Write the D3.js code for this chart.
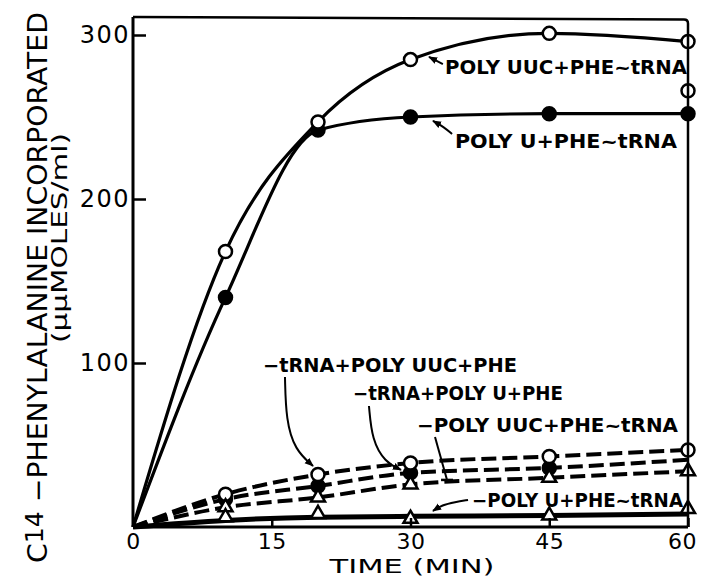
<!DOCTYPE html>
<html>
<head>
<meta charset="utf-8">
<script src="https://cdn.jsdelivr.net/npm/d3@7"></script>
<style>
  html, body { margin: 0; padding: 0; background: #fff; }
  svg { display: block; }
  text { font-family: "DejaVu Sans", sans-serif; fill: #000; }
</style>
</head>
<body>
<svg id="chart" width="702" height="579"></svg>
<script>
// ---------------- data ----------------
const times = [0, 10, 20, 30, 45, 60];
// solid curves (complete system)
const polyUUC_tRNA = [0, 168, 247, 285, 301, 296];   // open circles
const polyU_tRNA   = [0, 140, 242, 250, 252, 252];   // filled circles
const extraTime = [60];
const extraPolyUUC = [266];                          // extra open circle at 60 min
// dashed curves (controls)
const noTRNA_polyUUC = [0, 20, 32, 39, 43, 47];      // open circles
const noTRNA_polyU   = [0, 17, 25, 33, 36, 41];      // filled circles (line)
const noTRNA_polyU_pts = [null, 17, 25, 33, 36, null];
const noPoly_UUC     = [0, 12, 18, 26, 30, 34];      // triangles
// thick solid bottom line
const noPoly_U_line  = [0, 4, 6, 6.5, 7, 8];
const noPoly_U_pts   = [null, 6, 8, 5, 7, 11];       // triangles
const xTicks = [0, 15, 30, 45, 60];
const yTicks = [100, 200, 300];
const xLabel = "TIME (MIN)";
const yLabel1a = "C", yLabel1b = "14", yLabel1c = " −PHENYLALANINE INCORPORATED";
const yLabel2 = "(μμMOLES/ml)";

// ---------------- layout ----------------
const svg = d3.select("#chart");
const x = d3.scaleLinear().domain([0, 60]).range([133, 688]);
const y = d3.scaleLinear().domain([0, 300]).range([527, 35]);
const frameTop = 311;

const defs = svg.append("defs");
defs.append("marker").attr("id", "ah")
  .attr("viewBox", "0 0 10 10").attr("refX", 9).attr("refY", 5)
  .attr("markerWidth", 9).attr("markerHeight", 9)
  .attr("markerUnits", "userSpaceOnUse").attr("orient", "auto")
  .append("path").attr("d", "M0,1 L10,5 L0,9 Z").attr("fill", "#000");

const zip = (vals) => times.map((t, i) => ({t, v: vals[i]}));
const lineGen = d3.line().x(d => x(d.t)).y(d => y(d.v)).curve(d3.curveMonotoneX);

// curves
svg.append("path").datum(zip(polyUUC_tRNA)).attr("d", lineGen)
  .attr("fill", "none").attr("stroke", "#000").attr("stroke-width", 3.2);
svg.append("path").datum(zip(polyU_tRNA)).attr("d", lineGen)
  .attr("fill", "none").attr("stroke", "#000").attr("stroke-width", 3.2);

[noTRNA_polyUUC, noTRNA_polyU, noPoly_UUC].forEach(vals => {
  svg.append("path").datum(zip(vals)).attr("d", lineGen)
    .attr("fill", "none").attr("stroke", "#000").attr("stroke-width", 4)
    .attr("stroke-dasharray", "15,6");
});
svg.append("path").datum(zip(noPoly_U_line)).attr("d", lineGen)
  .attr("fill", "none").attr("stroke", "#000").attr("stroke-width", 5);

// markers
function circles(vals, filled) {
  svg.append("g").selectAll("circle")
    .data(times.map((t, i) => ({t, v: vals[i]})).filter(d => d.v !== null && d.t > 0))
    .join("circle")
    .attr("cx", d => x(d.t)).attr("cy", d => y(d.v)).attr("r", 6.5)
    .attr("fill", filled ? "#000" : "#fff").attr("stroke", "#000").attr("stroke-width", 2.5);
}
function triangles(vals) {
  svg.append("g").selectAll("path")
    .data(times.map((t, i) => ({t, v: vals[i]})).filter(d => d.v !== null && d.t > 0))
    .join("path")
    .attr("transform", d => `translate(${x(d.t)},${y(d.v)})`)
    .attr("d", d3.symbol(d3.symbolTriangle, 85))
    .attr("fill", "#fff").attr("stroke", "#000").attr("stroke-width", 2.5);
}
circles(noTRNA_polyU_pts, true);
circles(noTRNA_polyUUC, false);
triangles(noPoly_UUC);
triangles(noPoly_U_pts);
circles(polyU_tRNA, true);
circles(polyUUC_tRNA, false);
svg.append("g").selectAll("circle")
  .data(extraTime.map((t, i) => ({t, v: extraPolyUUC[i]})))
  .join("circle")
  .attr("cx", d => x(d.t)).attr("cy", d => y(d.v)).attr("r", 6.5)
  .attr("fill", "#fff").attr("stroke", "#000").attr("stroke-width", 2.5);

// frame (top and right)
svg.append("path")
  .attr("d", `M${x(0)},${y(frameTop)} L${x(60) - 4},${y(frameTop - 1.5)} Q${x(60)},${y(frameTop - 1.5)} ${x(60)},${y(frameTop - 4)} L${x(60)},${y(0)}`)
  .attr("fill", "none").attr("stroke", "#000").attr("stroke-width", 2.5);

// axes
const yAxis = d3.axisLeft(y).tickValues(yTicks).tickSize(-13).tickPadding(16).tickFormat(d3.format("d"));
const gy = svg.append("g").attr("transform", `translate(${x(0)},0)`).call(yAxis);
gy.select(".domain").attr("d", `M0,${y(0)}V${y(frameTop)}`).attr("stroke-width", 3);
gy.selectAll(".tick line").attr("stroke-width", 2.5);
gy.selectAll(".tick text").attr("font-size", 24).attr("letter-spacing", 1.5)
  .attr("font-family", "DejaVu Sans").attr("x", -3);

const xAxis = d3.axisBottom(x).tickValues(xTicks).tickSize(-9).tickPadding(14).tickFormat(d3.format("d"));
const gx = svg.append("g").attr("transform", `translate(0,${y(0)})`).call(xAxis);
gx.select(".domain").attr("d", `M${x(0)},0H${x(60)}`).attr("stroke-width", 3);
gx.selectAll(".tick line").attr("stroke-width", 2.5);
gx.selectAll(".tick text").attr("font-size", 22).attr("font-family", "DejaVu Sans")
  .attr("letter-spacing", 0.5).attr("y", 6).attr("dy", "0.71em")
  .attr("x", d => d === 60 ? -6 : 0);

// axis titles
svg.append("text").attr("x", 412).attr("y", 573).attr("text-anchor", "middle")
  .attr("font-size", 20).attr("textLength", 165).attr("lengthAdjust", "spacingAndGlyphs")
  .text(xLabel);

const yl = svg.append("text").attr("transform", "translate(47,563) rotate(-90)")
  .attr("font-size", 27).attr("textLength", 551).attr("lengthAdjust", "spacingAndGlyphs");
yl.append("tspan").text(yLabel1a);
yl.append("tspan").attr("dy", -4).attr("font-size", 24).text(yLabel1b);
yl.append("tspan").attr("dy", 4).text(yLabel1c);

svg.append("text").attr("transform", "translate(67,238) rotate(-90)")
  .attr("text-anchor", "middle").attr("font-size", 21)
  .attr("textLength", 210).attr("lengthAdjust", "spacingAndGlyphs")
  .text(yLabel2);

// annotations (positions in data units)
const annotations = [
  {text: "POLY UUC+PHE~tRNA", t: 33.73, v: 276.2, len: 242, arrow: [[33.5, 282.3], [32.0, 286.6]]},
  {text: "POLY U+PHE~tRNA", t: 34.8, v: 231.1, len: 222, arrow: [[34.49, 239.6], [33.6, 244], [32.43, 247.6]]},
  {text: "−tRNA+POLY UUC+PHE", t: 14.05, v: 94.5, len: 254, arrow: [[16.43, 91.5], [16.54, 65.2], [17.51, 47.0], [19.46, 37.2]]},
  {text: "−tRNA+POLY U+PHE", t: 23.78, v: 77.4, len: 210, arrow: [[25.51, 73.8], [25.84, 53.0], [27.24, 39.6], [28.97, 34.8]]},
  {text: "−POLY UUC+PHE~tRNA", t: 30.70, v: 57.9, len: 261, leader: [[32.65, 54.9], [33.95, 28.7]]},
  {text: "−POLY U+PHE~tRNA", t: 36.65, v: 12.2, len: 211, arrow: [[36.22, 16.5], [34.81, 15.2], [33.41, 13.4], [32.43, 9.8]]}
];
const arrowLine = d3.line().x(d => x(d[0])).y(d => y(d[1])).curve(d3.curveBasis);
annotations.forEach(a => {
  svg.append("text").attr("x", x(a.t)).attr("y", y(a.v))
    .attr("font-size", 19).attr("font-weight", "bold")
    .attr("textLength", a.len).attr("lengthAdjust", "spacingAndGlyphs")
    .text(a.text);
  if (a.arrow) {
    svg.append("path").attr("d", arrowLine(a.arrow))
      .attr("fill", "none").attr("stroke", "#000").attr("stroke-width", 2)
      .attr("marker-end", "url(#ah)");
  }
  if (a.leader) {
    const [p0, p1] = a.leader;
    svg.append("path").attr("d", `M${x(p0[0])},${y(p0[1])}L${x(p1[0])},${y(p1[1])}`)
      .attr("stroke", "#000").attr("stroke-width", 2);
    svg.append("path").attr("d", `M${x(p1[0]) - 6},${y(p1[1])}H${x(p1[0]) + 6}`)
      .attr("stroke", "#000").attr("stroke-width", 2.5);
  }
});
</script>
</body>
</html>
